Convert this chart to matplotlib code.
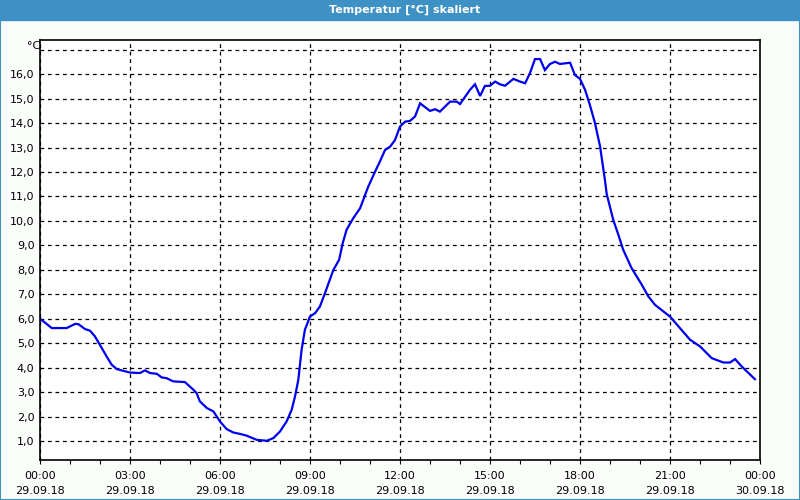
#!/usr/bin/python3

import matplotlib
matplotlib.use('Agg')
from matplotlib import pyplot as plt
from matplotlib.patches import Rectangle

# Temperature readings, hours since 29.09.18 00:00
hours = [0.0, 0.22, 0.39, 0.89, 1.17, 1.28, 1.5, 1.67, 1.83, 2.06, 2.22, 2.39, 2.56, 2.78,
	3.0, 3.33, 3.5, 3.67, 3.89, 4.06, 4.22, 4.44, 4.83, 5.11, 5.22, 5.33, 5.56, 5.78,
	6.0, 6.22, 6.44, 6.67, 6.89, 7.22, 7.56, 7.78, 8.0, 8.22, 8.39, 8.5, 8.61, 8.72, 8.83,
	9.0, 9.17, 9.33, 9.5, 9.78, 9.97, 10.09, 10.22, 10.44, 10.67, 10.94, 11.17, 11.33,
	11.5, 11.67, 11.83, 12.0, 12.17, 12.33, 12.5, 12.67, 13.0, 13.17, 13.33, 13.67, 13.89,
	14.0, 14.33, 14.5, 14.67, 14.83, 15.0, 15.17, 15.33, 15.5, 15.78, 16.0, 16.17, 16.33,
	16.5, 16.67, 16.83, 17.0, 17.17, 17.33, 17.67, 17.83, 18.0, 18.17, 18.33, 18.5, 18.67,
	18.83, 18.89, 19.11, 19.28, 19.44, 19.72, 20.06, 20.28, 20.5, 20.78, 21.0, 21.33,
	21.67, 22.0, 22.39, 22.78, 23.0, 23.17, 23.39, 23.83]
temps = [6.0, 5.79, 5.62, 5.62, 5.79, 5.78, 5.58, 5.51, 5.28, 4.80, 4.46, 4.12, 3.94, 3.87,
	3.80, 3.78, 3.89, 3.78, 3.75, 3.60, 3.57, 3.44, 3.41, 3.10, 2.96, 2.62, 2.35, 2.21,
	1.80, 1.49, 1.35, 1.29, 1.22, 1.05, 1.01, 1.12, 1.39, 1.80, 2.28, 2.82, 3.5, 4.73, 5.55,
	6.09, 6.23, 6.5, 7.05, 8.0, 8.41, 9.09, 9.64, 10.11, 10.52, 11.40, 12.02, 12.43,
	12.9, 13.04, 13.3, 13.86, 14.06, 14.09, 14.27, 14.81, 14.5, 14.57, 14.47, 14.88, 14.88,
	14.78, 15.36, 15.59, 15.11, 15.52, 15.53, 15.70, 15.59, 15.53, 15.81, 15.70, 15.63, 16.04,
	16.62, 16.62, 16.17, 16.42, 16.51, 16.42, 16.47, 15.97, 15.81, 15.36, 14.74, 14.0, 13.04,
	11.68, 11.1, 10.04, 9.43, 8.82, 8.07, 7.39, 6.91, 6.57, 6.30, 6.09, 5.62,
	5.14, 4.87, 4.39, 4.21, 4.21, 4.35, 4.05, 3.53]

xticks = [0, 3, 6, 9, 12, 15, 18, 21, 24]
xticklabels = ['00:00\n29.09.18', '03:00\n29.09.18', '06:00\n29.09.18', '09:00\n29.09.18',
	'12:00\n29.09.18', '15:00\n29.09.18', '18:00\n29.09.18', '21:00\n29.09.18', '00:00\n30.09.18']
yticks = list(range(1, 18))
yticklabels = ['{},0'.format(v) for v in range(1, 17)] + ['']

title = 'Temperatur [°C] skaliert'
barColor = '#3d91c4'
bgColor = '#fbfdfb'

fig = plt.figure(figsize=(8, 5), dpi=100)
fig.patch.set_facecolor(bgColor)

# Title bar and window border
fig.patches.append(Rectangle((0, 0.96), 1, 0.04, transform=fig.transFigure, color=barColor, zorder=0))
fig.patches.append(Rectangle((0.0006, 0.001), 0.9988, 0.998, transform=fig.transFigure,
	fill=False, edgecolor=barColor, linewidth=1.5, zorder=1))
fig.text(0.506, 0.98, title, color='white', fontsize=8, fontweight='bold', ha='center', va='center')

ax = fig.add_axes([0.05, 0.08, 0.90, 0.84])
ax.set_facecolor('white')
ax.plot(hours, temps, color='#0000f0', linewidth=1.6, solid_joinstyle='miter')

ax.set_xlim(0, 24)
ax.set_ylim(0.224, 17.4)
ax.set_xticks(xticks)
ax.set_xticklabels(xticklabels, fontsize=8, linespacing=1.55)
ax.set_xticks(range(0, 25), minor=True)
ax.set_yticks(yticks)
ax.set_yticklabels(yticklabels, fontsize=8)
ax.tick_params(axis='x', which='both', direction='out', length=3, width=0.8, pad=5)
ax.tick_params(axis='y', length=0, pad=4)

ax.grid(True, color='black', linestyle=(0, (3, 3)), linewidth=0.9)
for s in ax.spines.values():
	s.set_linewidth(1.2)

ax.text(-0.007, 17.15, '°C', fontsize=8, ha='right', va='center')

plt.savefig('out.png', dpi=100, facecolor=bgColor)
plt.close()
